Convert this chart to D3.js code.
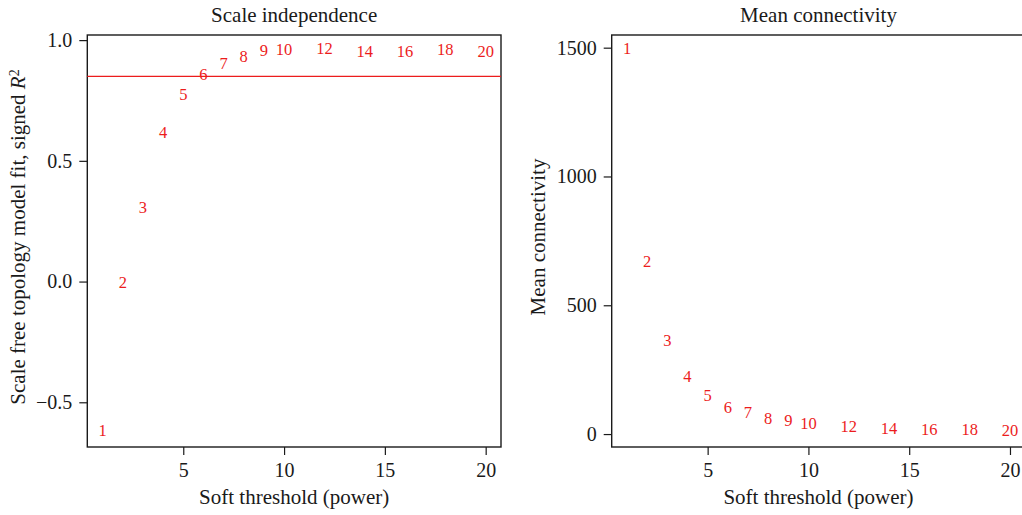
<!DOCTYPE html>
<html>
<head>
<meta charset="utf-8">
<script src="https://cdn.jsdelivr.net/npm/d3@7"></script>
<style>
  body { margin: 0; background: #fff; }
  svg { display: block; }
  text { font-family: "Liberation Serif", "Times New Roman", serif; fill: #1a1a1a; }
</style>
</head>
<body>
<svg id="chart" width="1022" height="515"></svg>
<script>
// Soft-thresholding powers tested
const powers = [1, 2, 3, 4, 5, 6, 7, 8, 9, 10, 12, 14, 16, 18, 20];
// Scale-free topology fit index (signed R^2) per power
const signedR2 = [-0.622, -0.012, 0.302, 0.611, 0.769, 0.850, 0.896, 0.925, 0.952, 0.955, 0.958, 0.945, 0.945, 0.954, 0.948];
// Mean connectivity per power
const meanK = [1490, 664, 357, 218, 144, 99, 76, 56, 45, 36, 23, 16, 13, 10, 9];

const xTickValues = [5, 10, 15, 20];
const r2TickValues = [-0.5, 0.0, 0.5, 1.0];
const kTickValues = [0, 500, 1000, 1500];
const r2Cutoff = 0.85;

const RED = "#ec1c1c";
const INK = "#1a1a1a";
const svg = d3.select("#chart");

// R-style axis range: data extent widened by 4% on each side
function padded(values) {
  const [lo, hi] = d3.extent(values);
  const d = (hi - lo) * 0.04;
  return [lo - d, hi + d];
}

function panel(opt) {
  const g = svg.append("g");
  const x = d3.scaleLinear().domain(padded(powers)).range([opt.left, opt.right]);
  const y = d3.scaleLinear().domain(padded(opt.values)).range([opt.bottom, opt.top]);

  // x axis
  const xa = g.append("g")
    .attr("transform", `translate(0,${opt.bottom})`)
    .call(d3.axisBottom(x).tickValues(xTickValues).tickSize(8).tickPadding(8));
  xa.select(".domain").remove();
  xa.selectAll("line").attr("stroke", INK).attr("stroke-width", 1.2);
  xa.selectAll("text").attr("font-size", 20).attr("fill", INK).attr("font-family", null);

  // y axis
  const ya = g.append("g")
    .attr("transform", `translate(${opt.left},0)`)
    .call(d3.axisLeft(y).tickValues(opt.ticks).tickFormat(opt.format).tickSize(8).tickPadding(7));
  ya.select(".domain").remove();
  ya.selectAll("line").attr("stroke", INK).attr("stroke-width", 1.2);
  ya.selectAll("text").attr("font-size", 20).attr("fill", INK).attr("font-family", null);

  // frame
  g.append("rect")
    .attr("x", opt.left).attr("y", opt.top)
    .attr("width", opt.right - opt.left).attr("height", opt.bottom - opt.top)
    .attr("fill", "none").attr("stroke", INK).attr("stroke-width", 1.4);

  // optional reference line
  if (opt.hline != null) {
    g.append("line")
      .attr("x1", opt.left).attr("x2", opt.right)
      .attr("y1", y(opt.hline)).attr("y2", y(opt.hline))
      .attr("stroke", RED).attr("stroke-width", 1.3);
  }

  // power labels placed at each point
  g.selectAll("text.pt")
    .data(powers.map((p, i) => ({ p, v: opt.values[i] })))
    .join("text")
    .attr("class", "pt")
    .attr("x", d => x(d.p))
    .attr("y", d => y(d.v))
    .attr("dy", "0.24em")
    .attr("text-anchor", "middle")
    .attr("font-size", 16.5)
    .style("fill", RED)
    .text(d => d.p);

  // title
  g.append("text")
    .attr("x", (opt.left + opt.right) / 2).attr("y", 22)
    .attr("text-anchor", "middle").attr("font-size", 21)
    .text(opt.title);

  // x label
  g.append("text")
    .attr("x", (opt.left + opt.right) / 2).attr("y", 504)
    .attr("text-anchor", "middle").attr("font-size", 21)
    .text("Soft threshold (power)");

  // y label
  const yl = g.append("text")
    .attr("transform", `translate(${opt.ylabX},${(opt.top + opt.bottom) / 2 - 4}) rotate(-90)`)
    .attr("text-anchor", "middle").attr("font-size", 21);
  opt.ylabel(yl);
}

panel({
  left: 87.3, right: 501, top: 35, bottom: 447,
  values: signedR2, ticks: r2TickValues,
  format: d => d3.format(".1f")(d).replace("-", "\u2212"),
  hline: r2Cutoff,
  title: "Scale independence",
  ylabX: 25,
  ylabel: t => {
    t.append("tspan").text("Scale free topology model fit, signed ");
    t.append("tspan").attr("font-style", "italic").text("R");
    t.append("tspan").attr("dy", "-0.45em").attr("font-size", 14).text("2");
  }
});

panel({
  left: 611.7, right: 1025.3, top: 35, bottom: 447,
  values: meanK, ticks: kTickValues,
  format: d3.format("d"),
  hline: null,
  title: "Mean connectivity",
  ylabX: 545,
  ylabel: t => t.text("Mean connectivity")
});
</script>
</body>
</html>
